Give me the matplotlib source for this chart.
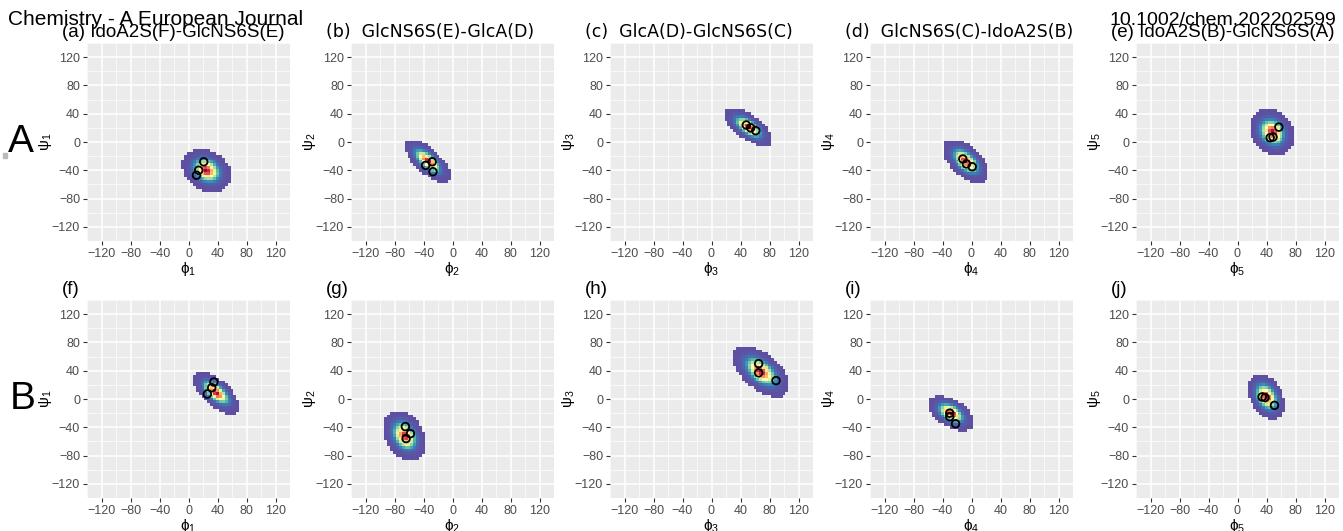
import numpy as np
import matplotlib.pyplot as plt
from matplotlib.patches import Rectangle

plt.rcParams['font.family'] = ['Liberation Sans', 'DejaVu Sans']

# panel titles and axis indices
titles = ["(a) IdoA2S(F)-GlcNS6S(E)", "(b)  GlcNS6S(E)-GlcA(D)", "(c)  GlcA(D)-GlcNS6S(C)",
          "(d)  GlcNS6S(C)-IdoA2S(B)", "(e) IdoA2S(B)-GlcNS6S(A)",
          "(f)", "(g)", "(h)", "(i)", "(j)"]
idx = [1, 2, 3, 4, 5, 1, 2, 3, 4, 5]

# populated region of each phi/psi map: centre, spread, tilt
phi_c = [25, -34, 51, -8, 48, 38, -66, 68, -28, 40]
psi_c = [-40, -27, 21, -27, 14, 9, -52, 39, -20, 3]
phi_sd = [12, 11.5, 11.8, 11.4, 11, 11.6, 10.6, 14, 11.4, 9.2]
psi_sd = [11, 11, 9.6, 11, 12, 10.8, 12.8, 13, 8.8, 11.6]
rho = [-0.25, -0.7, -0.65, -0.55, -0.2, -0.65, -0.3, -0.55, -0.5, -0.35]

# reference conformations (open circles)
mark_phi = [[21, 14, 11], [-28, -37, -27], [48, 54, 61], [-12, -7, 1], [57, 49, 45],
            [35, 32, 26], [-65, -58, -64], [65, 65, 89], [-30, -30, -22], [34, 38, 51]]
mark_psi = [[-28, -40, -47], [-28, -33, -42], [24, 20, 16], [-24, -31, -35], [21, 7, 6],
            [24, 16, 7], [-39, -49, -56], [50, 37, 26], [-20, -25, -35], [3, 2, -9]]

W, H = 1343, 531
fig = plt.figure(figsize=(W / 100, H / 100), dpi=100)

col_left = [87, 351, 610, 870, 1136]
row_top = [43, 300]
pw, ph = 203, 198

edges = np.arange(-182, 183, 4)
cen = (edges[:-1] + edges[1:]) / 2
X, Y = np.meshgrid(cen, cen)

for k in range(10):
    r, c = divmod(k, 5)
    x0, y0 = col_left[c], row_top[r]
    ax = fig.add_axes([x0 / W, 1 - (y0 + ph) / H, pw / W, ph / H])
    ax.set_facecolor('#EBEBEB')
    ax.set_axisbelow(True)
    ax.set_xlim(-138, 138)
    ax.set_ylim(-138, 138)
    ticks = np.arange(-120, 121, 40)
    ax.set_xticks(ticks)
    ax.set_yticks(ticks)
    ax.set_xticks(np.arange(-140, 141, 20), minor=True)
    ax.set_yticks(np.arange(-140, 141, 20), minor=True)
    ax.grid(which='major', color='white', lw=1.1)
    ax.grid(which='minor', color='white', lw=0.5)
    ax.tick_params(which='major', length=3, width=0.8, color='#333333',
                   labelsize=9, labelcolor='#4D4D4D', pad=2)
    ax.tick_params(which='minor', length=0)
    for s in ax.spines.values():
        s.set_visible(False)

    # density of sampled torsions
    dx = (X - phi_c[k]) / phi_sd[k]
    dy = (Y - psi_c[k]) / psi_sd[k]
    z = (dx ** 2 - 2 * rho[k] * dx * dy + dy ** 2) / (1 - rho[k] ** 2)
    dens = np.exp(-z)
    dens = np.ma.masked_where(z > 7.8, dens)
    ax.pcolormesh(edges, edges, dens, cmap='Spectral_r', vmin=0.0, vmax=1, zorder=2)
    ax.scatter(mark_phi[k], mark_psi[k], s=30, facecolors='none', edgecolors='black',
               linewidths=1.3, zorder=3)

    ax.set_xlabel('$\\mathregular{ϕ_{%d}}$' % idx[k], fontsize=11)
    ax.set_ylabel('$\\mathregular{ψ_{%d}}$' % idx[k], fontsize=11)
    ax.xaxis.set_label_coords(0.5, -0.095)
    ax.yaxis.set_label_coords(-0.165, 0.5)

    fam = 'DejaVu Sans' if k in (1, 2, 3) else 'Liberation Sans'
    fs = 12.5 if k in (1, 2, 3) else 13.5
    fig.text((x0 - 25) / W, 1 - (y0 - 6) / H, titles[k], fontsize=fs, family=fam,
             ha='left', va='baseline')

fig.text(8 / W, 1 - 25 / H, "Chemistry - A European Journal", fontsize=15,
         family='Liberation Sans', ha='left', va='baseline')
fig.text(1336 / W, 1 - 25 / H, "10.1002/chem.202202599", fontsize=14,
         family='Liberation Sans', ha='right', va='baseline')
fig.text(21 / W, 1 - 142 / H, "A", fontsize=28, family='Liberation Sans', ha='center', va='center')
fig.text(23 / W, 1 - 399 / H, "B", fontsize=28, family='Liberation Sans', ha='center', va='center')
fig.patches.append(Rectangle((3 / W, 1 - 158 / H), 4 / W, 5 / H, transform=fig.transFigure,
                             color='#BBBBBB'))

plt.savefig('out.png', dpi=100)
